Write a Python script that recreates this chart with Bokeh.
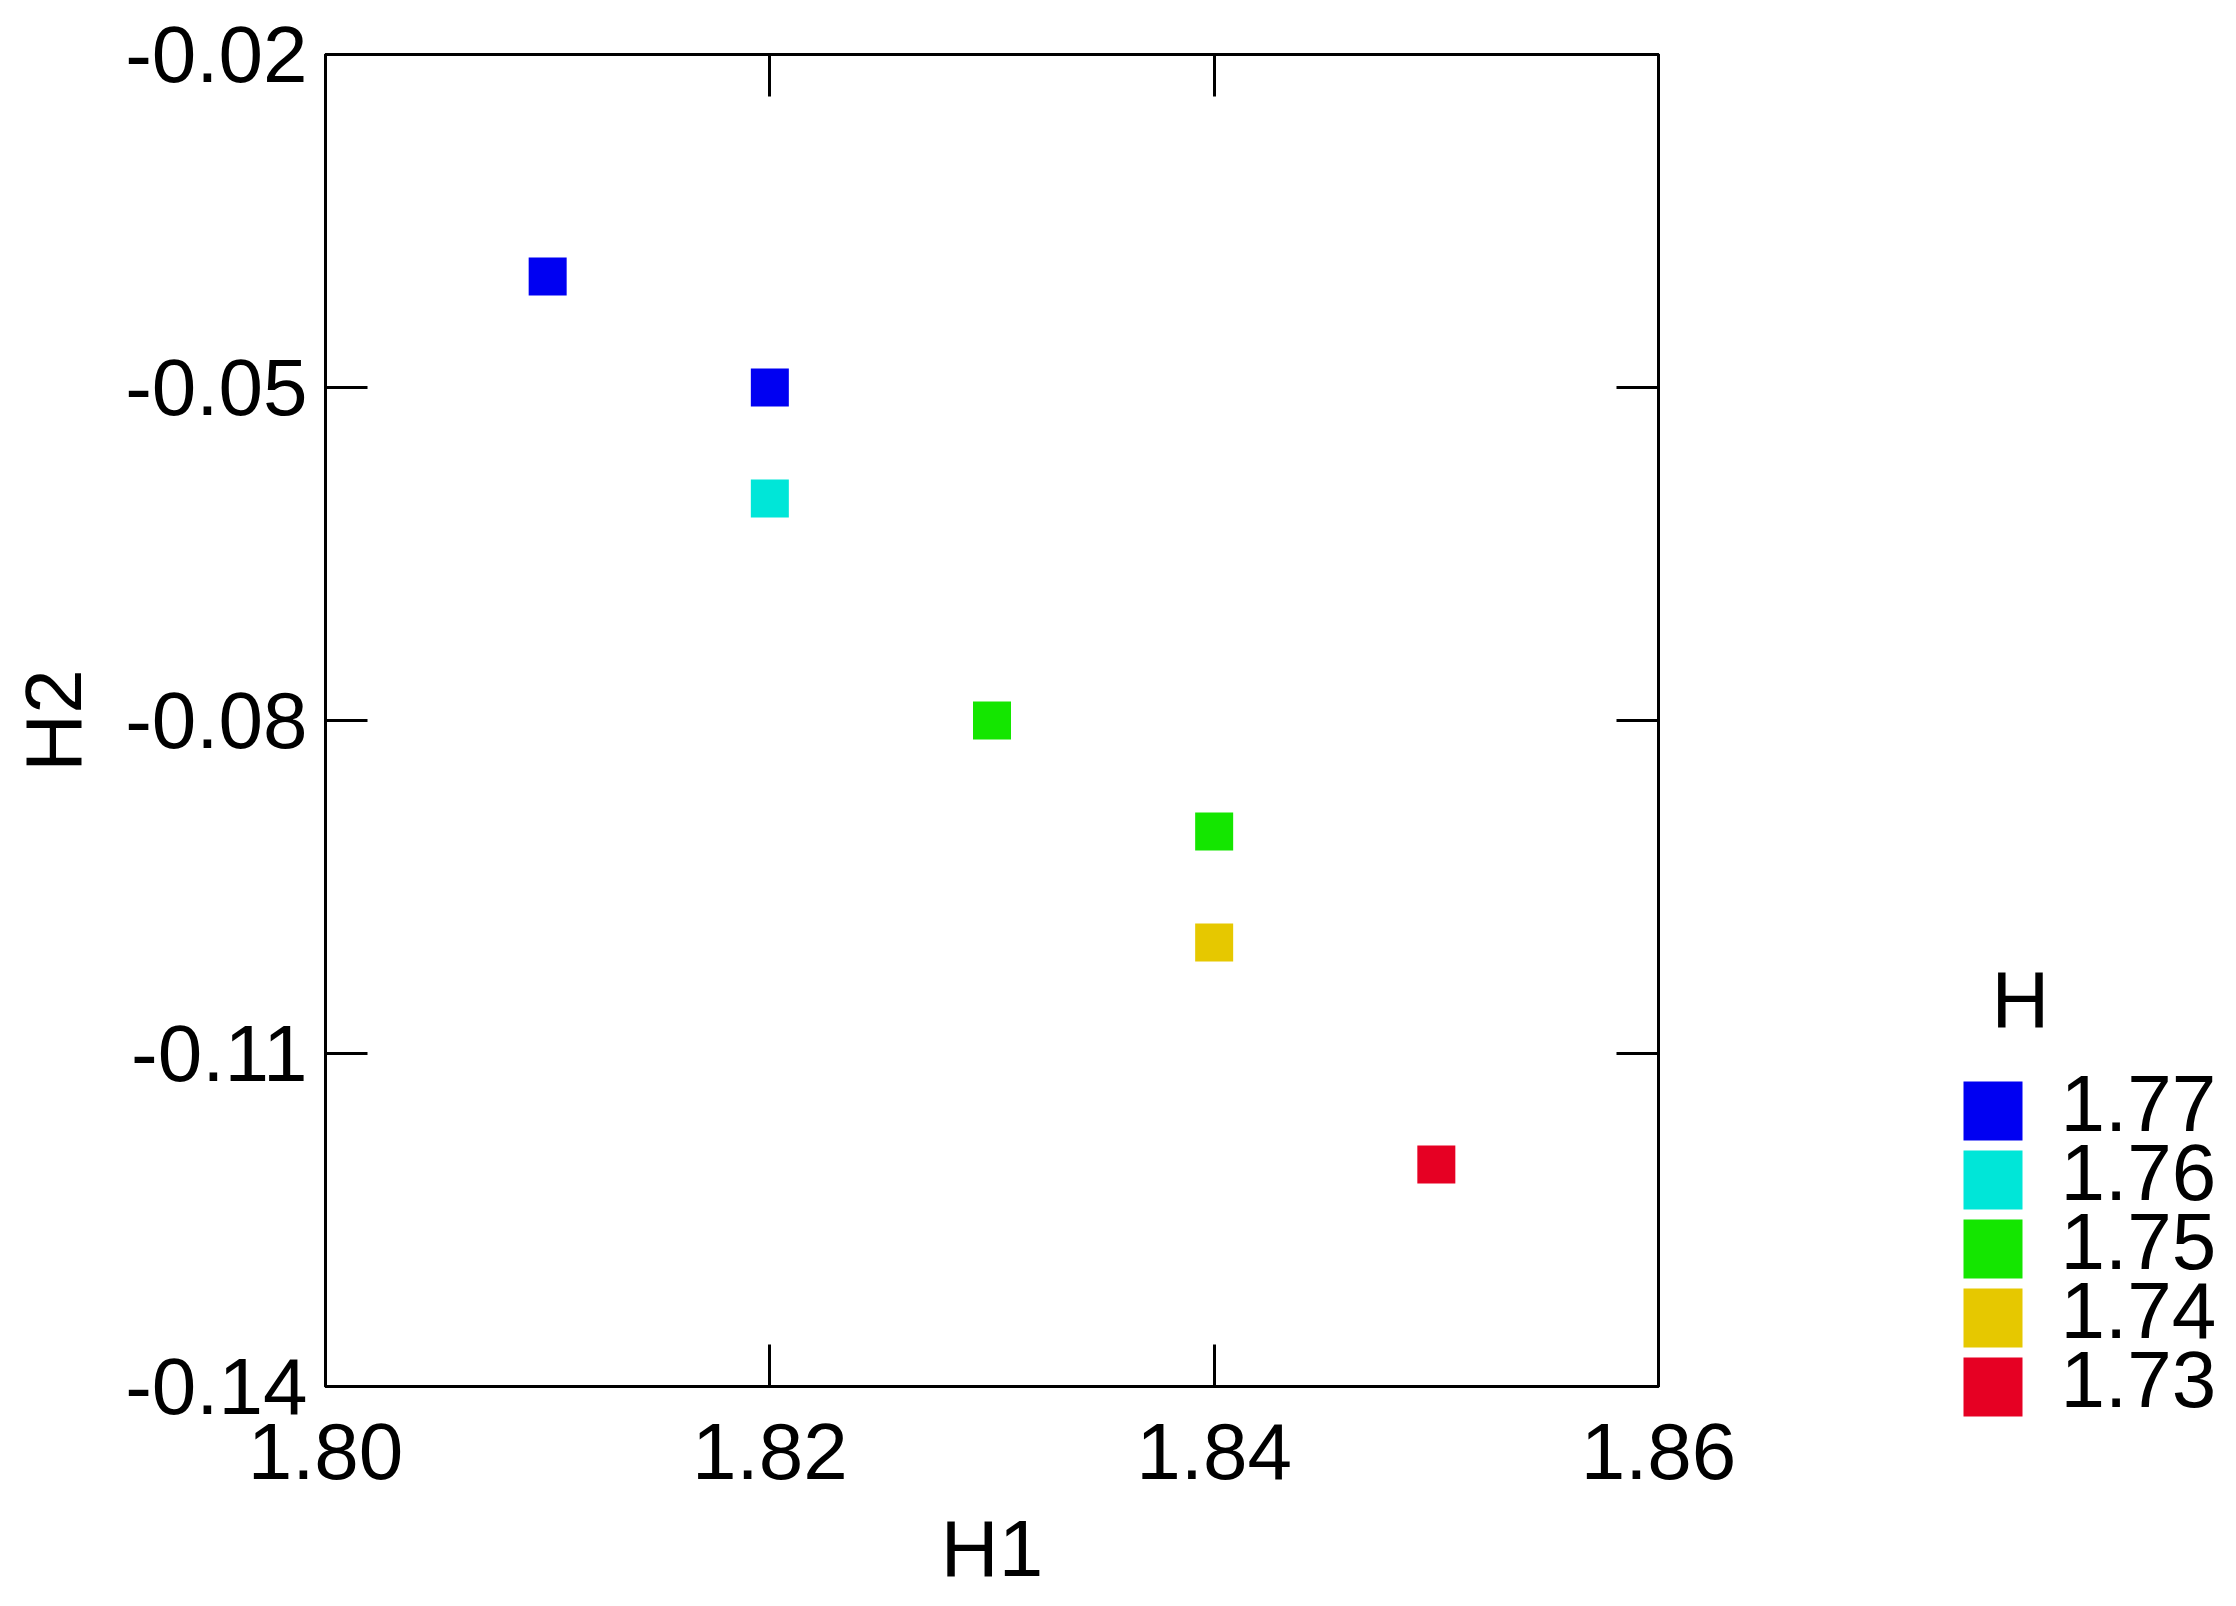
from bokeh.plotting import figure
from bokeh.models import Range1d, LinearAxis, FixedTicker, CustomJSTickFormatter, ColumnDataSource
from bokeh.layouts import row
from bokeh.core.properties import value
from bokeh.embed import file_html
from bokeh.resources import INLINE

# ---- data ----
H1 = [1.81, 1.82, 1.82, 1.83, 1.84, 1.84, 1.85]
H2 = [-0.04, -0.05, -0.06, -0.08, -0.09, -0.10, -0.12]
H = ["1.77", "1.77", "1.76", "1.75", "1.75", "1.74", "1.73"]

legend_title = "H"
legend_labels = ["1.77", "1.76", "1.75", "1.74", "1.73"]
legend_colors = ["#0000f2", "#00e6d8", "#14e600", "#e6c800", "#e60023"]

x_ticks = [1.80, 1.82, 1.84, 1.86]
y_ticks = [-0.14, -0.11, -0.08, -0.05, -0.02]

FONT = "Liberation Sans"
FS = "80px"

color_of = dict(zip(legend_labels, legend_colors))
src = ColumnDataSource(dict(x=H1, y=H2, h=H, c=[color_of[v] for v in H]))

MAIN_W, TOTAL_H = 1900, 1606
TOP, BOTTOM = 54, 220
p = figure(x_range=Range1d(1.80, 1.86), y_range=Range1d(-0.14, -0.02),
           width=MAIN_W, height=TOTAL_H,
           min_border_left=325, min_border_top=TOP, min_border_bottom=BOTTOM,
           min_border_right=MAIN_W - 325 - 1333,
           output_backend="svg", toolbar_location=None, title=None,
           x_axis_label="H1", y_axis_label="H2")
p.grid.visible = False
p.outline_line_color = "black"
p.outline_line_width = 3
p.outline_line_alpha = 1.0
p.background_fill_color = "white"
p.border_fill_color = "white"

fmt = CustomJSTickFormatter(code="return tick.toFixed(2);")

def style_axis(ax, ticks, labels=True):
    ax.ticker = FixedTicker(ticks=ticks, minor_ticks=[])
    ax.axis_line_color = "black"
    ax.axis_line_width = 3
    ax.major_tick_in = 42
    ax.major_tick_out = 0
    ax.major_tick_line_width = 3
    ax.major_tick_line_color = "black"
    ax.minor_tick_line_color = None
    if labels:
        ax.formatter = fmt
        ax.major_label_text_font = FONT
        ax.major_label_text_font_size = FS
        ax.major_label_text_color = "black"
        ax.axis_label_text_font = FONT
        ax.axis_label_text_font_size = FS
        ax.axis_label_text_font_style = "normal"
        ax.axis_label_text_color = "black"
    else:
        ax.formatter = CustomJSTickFormatter(code="return '';")
        ax.major_label_text_font_size = "0px"
        ax.major_label_standoff = 0

style_axis(p.xaxis[0], x_ticks)
style_axis(p.yaxis[0], y_ticks)
p.xaxis[0].major_label_standoff = 37
p.xaxis[0].axis_label_standoff = 22
p.yaxis[0].major_label_standoff = 18
p.yaxis[0].axis_label_standoff = 24

top_ax = LinearAxis()
right_ax = LinearAxis()
style_axis(top_ax, x_ticks, labels=False)
style_axis(right_ax, y_ticks, labels=False)
p.add_layout(top_ax, "above")
p.add_layout(right_ax, "right")

p.scatter("x", "y", source=src, marker="square", size=38,
          fill_color="c", line_color=None)

# ---- legend panel: ranges in page pixels; frame from TOP down to page bottom ----
LW = 2236 - MAIN_W
lg = figure(x_range=Range1d(MAIN_W, 2236), y_range=Range1d(TOTAL_H, TOP),
            width=LW, frame_height=TOTAL_H - TOP, title=None,
            min_border_left=0, min_border_right=0,
            min_border_top=TOP, min_border_bottom=0,
            x_axis_type=None, y_axis_type=None,
            output_backend="svg", toolbar_location=None)
if "frame_align" in lg.properties():
    lg.frame_align = False
lg.grid.visible = False
lg.outline_line_color = None
lg.background_fill_color = "white"
lg.border_fill_color = "white"

pitch = 69
y0 = 1110.5
ys = [y0 + i * pitch for i in range(len(legend_labels))]
lsrc = ColumnDataSource(dict(x=[1992.5] * len(ys), y=ys, c=legend_colors,
                             tx=[2060] * len(ys), ty=[v - 7.5 for v in ys],
                             t=legend_labels))
lg.rect("x", "y", width=59, height=59, source=lsrc, fill_color="c", line_color=None)
lg.text("tx", "ty", text="t", source=lsrc, text_font=value(FONT), text_font_size=value(FS),
        text_baseline="middle", text_align="left", text_color="black")
lg.text(x=[1991], y=[998.5], text=[legend_title], text_font=value(FONT),
        text_font_size=value(FS), text_baseline="middle", text_align="left", text_color="black")

layout = row(p, lg)
open("out.html", "w").write(file_html(layout, INLINE))
